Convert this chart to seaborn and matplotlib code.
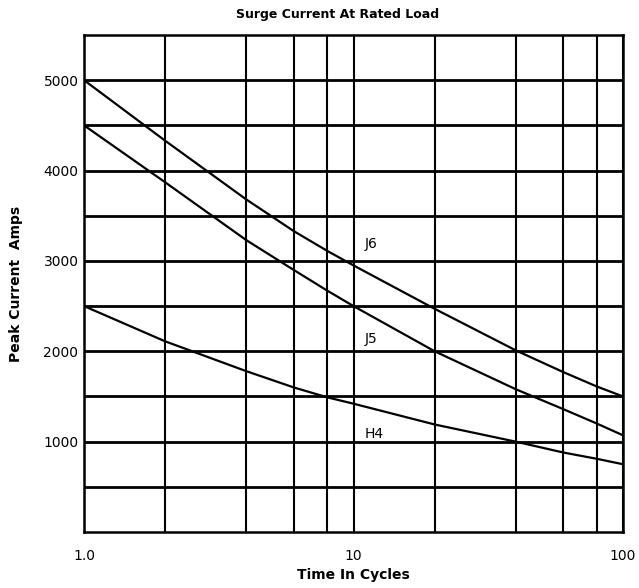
import pandas as pd
import matplotlib
matplotlib.use("Agg")
import matplotlib.pyplot as plt
import seaborn as sns

# values
cycles = [1, 2, 4, 6, 8, 10, 20, 40, 60, 80, 100]
j6 = [5000, 4330, 3680, 3330, 3110, 2950, 2470, 2010, 1770, 1610, 1500]
j5 = [4500, 3870, 3230, 2900, 2670, 2500, 2000, 1580, 1360, 1200, 1070]
h4 = [2500, 2110, 1780, 1600, 1490, 1420, 1190, 1000, 880, 810, 750]
series_names = ["J6", "J5", "H4"]
label_pos = {"J6": (11, 3190), "J5": (11, 2140), "H4": (11, 1080)}

x_major = [1, 10, 100]
x_major_labels = ["1.0", "10", "100"]
x_minor = [2, 4, 6, 8, 20, 40, 60, 80]
y_major = [1000, 2000, 3000, 4000, 5000]
y_minor = [500, 1500, 2500, 3500, 4500]

df = pd.DataFrame({
    "cycles": cycles * 3,
    "amps": j6 + j5 + h4,
    "series": [s for s in series_names for _ in cycles],
})

sns.set_style("white")
plt.rcParams["font.family"] = ["DejaVu Sans"]
plt.rcParams["text.color"] = "black"
plt.rcParams["axes.labelcolor"] = "black"
plt.rcParams["xtick.color"] = "black"
plt.rcParams["ytick.color"] = "black"

fig = plt.figure(figsize=(6.39, 5.88), dpi=100)
ax = fig.add_axes([0.1315, 0.0952, 0.8435, 0.8453])

sns.lineplot(data=df, x="cycles", y="amps", units="series", estimator=None,
             color="black", linewidth=1.6, ax=ax, legend=False)

ax.set_xscale("log")
ax.set_xlim(1, 100)
ax.set_ylim(0, 5500)
ax.set_xticks(x_major)
ax.set_xticklabels(x_major_labels)
ax.set_xticks(x_minor, minor=True)
ax.set_xticklabels([], minor=True)
ax.set_yticks(y_major)
ax.set_yticks(y_minor, minor=True)
ax.set_yticklabels([str(v) for v in y_major])

# heavy grid like the printed datasheet
ax.grid(True, axis="x", which="both", color="black", linewidth=1.5)
ax.grid(True, axis="y", which="both", color="black", linewidth=2.0)
ax.set_axisbelow(True)
ax.tick_params(axis="both", which="both", length=0, labelsize=10)
ax.tick_params(axis="x", pad=12)
ax.tick_params(axis="y", pad=4)
for sp in ax.spines.values():
    sp.set_color("black")
    sp.set_linewidth(1.8)

for name in series_names:
    x, y = label_pos[name]
    ax.text(x, y, name, ha="left", va="center", fontsize=10)

ax.set_xlabel("Time In Cycles", fontsize=10, fontweight="bold", labelpad=4)
ax.set_ylabel("Peak Current  Amps", fontsize=10, fontweight="bold")
ax.yaxis.set_label_coords(-0.113, 0.5)
fig.text(0.529, 0.976, "Surge Current At Rated Load", ha="center", va="center",
         fontsize=9, fontweight="bold")

plt.savefig("out.png", dpi=100)
